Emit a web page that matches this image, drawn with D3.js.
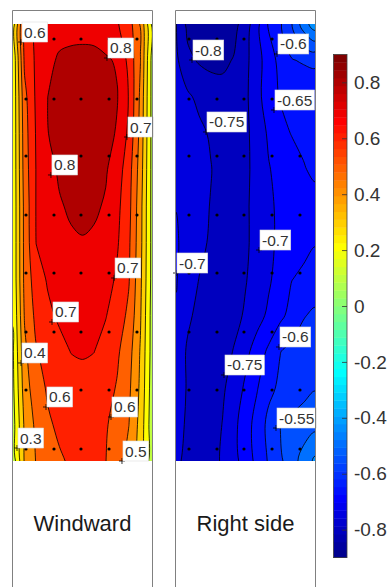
<!DOCTYPE html>
<html>
<head>
<meta charset="utf-8">
<script src="https://cdn.jsdelivr.net/npm/d3@7"></script>
<style>
  body { margin: 0; background: #fff; }
  svg { display: block; }
</style>
</head>
<body>
<svg id="chart" width="391" height="587"></svg>
<script>
// ---------------- DATA ----------------
const panelNames = ["Windward", "Right side"];

const windwardLevels = [0.1, 0.2, 0.3, 0.4, 0.5, 0.6, 0.7, 0.8];
const rightLevels = [-0.85, -0.8, -0.75, -0.7, -0.65, -0.6, -0.55, -0.5, -0.45];

// Cp grid: 13 rows (top -> bottom) x 13 columns (left -> right)
const windwardGrid = [
  [0.25, 0.633, 0.72, 0.75, 0.765, 0.77, 0.772, 0.77, 0.74, 0.708, 0.645, 0.49, 0.18],
  [0.22, 0.62, 0.717, 0.777, 0.812, 0.82, 0.822, 0.82, 0.812, 0.79, 0.673, 0.502, 0.17],
  [0.22, 0.572, 0.717, 0.80, 0.835, 0.855, 0.86, 0.855, 0.84, 0.805, 0.695, 0.48, 0.17],
  [0.22, 0.556, 0.709, 0.798, 0.83, 0.85, 0.855, 0.85, 0.835, 0.79, 0.68, 0.469, 0.17],
  [0.22, 0.547, 0.704, 0.763, 0.815, 0.83, 0.835, 0.83, 0.81, 0.748, 0.644, 0.452, 0.17],
  [0.22, 0.532, 0.705, 0.749, 0.79, 0.815, 0.82, 0.815, 0.79, 0.724, 0.632, 0.436, 0.17],
  [0.22, 0.53, 0.702, 0.724, 0.75, 0.785, 0.795, 0.785, 0.76, 0.71, 0.618, 0.432, 0.17],
  [0.22, 0.527, 0.655, 0.71, 0.74, 0.76, 0.77, 0.762, 0.74, 0.685, 0.608, 0.422, 0.17],
  [0.205, 0.509, 0.626, 0.68, 0.715, 0.735, 0.74, 0.735, 0.705, 0.651, 0.579, 0.41, 0.16],
  [0.19, 0.477, 0.593, 0.635, 0.67, 0.702, 0.708, 0.701, 0.665, 0.615, 0.54, 0.392, 0.16],
  [0.18, 0.451, 0.559, 0.611, 0.64, 0.66, 0.67, 0.66, 0.635, 0.592, 0.52, 0.382, 0.15],
  [0.16, 0.418, 0.523, 0.588, 0.615, 0.635, 0.645, 0.635, 0.61, 0.562, 0.502, 0.365, 0.14],
  [0.14, 0.413, 0.505, 0.547, 0.59, 0.61, 0.625, 0.615, 0.602, 0.54, 0.463, 0.343, 0.14]
];

const rightGrid = [
  [-0.748, -0.813, -0.827, -0.833, -0.830, -0.816, -0.775, -0.7145, -0.644, -0.606, -0.551, -0.476, -0.42],
  [-0.74, -0.788, -0.805, -0.81, -0.81, -0.797, -0.763, -0.720, -0.674, -0.635, -0.603, -0.595, -0.59],
  [-0.72, -0.742, -0.761, -0.779, -0.783, -0.780, -0.759, -0.720, -0.6665, -0.647, -0.643, -0.639, -0.635],
  [-0.715, -0.728, -0.74, -0.755, -0.775, -0.78, -0.761, -0.728, -0.693, -0.6625, -0.648, -0.644, -0.64],
  [-0.705, -0.719, -0.734, -0.748, -0.769, -0.78, -0.761, -0.732, -0.703, -0.685, -0.669, -0.652, -0.645],
  [-0.701, -0.717, -0.735, -0.752, -0.767, -0.775, -0.758, -0.732, -0.707, -0.692, -0.682, -0.671, -0.66],
  [-0.695, -0.716, -0.738, -0.756, -0.771, -0.775, -0.758, -0.733, -0.709, -0.691, -0.676, -0.661, -0.652],
  [-0.697, -0.725, -0.751, -0.765, -0.775, -0.775, -0.753, -0.730, -0.707, -0.679, -0.651, -0.6425, -0.635],
  [-0.705, -0.742, -0.7615, -0.775, -0.775, -0.765, -0.744, -0.718, -0.691, -0.662, -0.633, -0.604, -0.59],
  [-0.72, -0.756, -0.774, -0.775, -0.771, -0.747, -0.713, -0.678, -0.640, -0.601, -0.5865, -0.573, -0.56],
  [-0.725, -0.754, -0.774, -0.775, -0.758, -0.727, -0.692, -0.653, -0.612, -0.591, -0.578, -0.566, -0.553],
  [-0.73, -0.758, -0.775, -0.774, -0.749, -0.713, -0.673, -0.630, -0.587, -0.549, -0.5375, -0.526, -0.515],
  [-0.74, -0.763, -0.775, -0.769, -0.744, -0.715, -0.679, -0.635, -0.595, -0.559, -0.521, -0.481, -0.44]
];

// pressure tap locations (fraction of facade width / height from top)
const tapCols = [0.0935, 0.295, 0.489, 0.691, 0.892];
const tapRows = [0.0343, 0.1716, 0.3021, 0.4371, 0.5698, 0.7048, 0.8375, 0.9725];

// contour labels: [text, fraction x, fraction y]
const windwardLabels = [
  ["0.6", 0.0576, 0.0412], ["0.8", 0.676, 0.0778], ["0.7", 0.820, 0.2586],
  ["0.8", 0.273, 0.3455], ["0.7", 0.727, 0.5812], ["0.7", 0.2806, 0.6819],
  ["0.4", 0.0576, 0.7757], ["0.6", 0.2374, 0.8764], ["0.6", 0.705, 0.8993],
  ["0.3", 0.0288, 0.9703], ["0.5", 0.784, 1.0]
];
const rightLabels = [
  ["-0.8", 0.1151, 0.0824], ["-0.6", 0.7266, 0.0686], ["-0.65", 0.705, 0.1968],
  ["-0.75", 0.2158, 0.2471], ["-0.7", 0.5971, 0.5172], ["-0.7", 0.0, 0.5698],
  ["-0.6", 0.741, 0.7391], ["-0.75", 0.3453, 0.8032], ["-0.55", 0.7194, 0.9245]
];

const colorRange = [-0.9, 0.9];
const colorbarTicks = [0.8, 0.6, 0.4, 0.2, 0, -0.2, -0.4, -0.6, -0.8];

// ---------------- RENDER ----------------
const FONT = "'Liberation Sans', Arial, Helvetica, sans-serif";
const svg = d3.select("#chart");

function jet64() {
  const n = 16, m = 64, u = [];
  for (let i = 1; i <= n; i++) u.push(i / n);
  for (let i = 0; i < n - 1; i++) u.push(1);
  for (let i = n; i >= 1; i--) u.push(i / n);
  const g0 = Math.ceil(n / 2) - (m % 4 === 1 ? 1 : 0);
  const cmap = Array.from({ length: m }, () => [0, 0, 0]);
  u.forEach((val, j) => {
    const g = g0 + j + 1, r = g + n, b = g - n;
    if (g >= 1 && g <= m) cmap[g - 1][1] = val;
    if (r >= 1 && r <= m) cmap[r - 1][0] = val;
    if (b >= 1 && b <= m) cmap[b - 1][2] = val;
  });
  return cmap.map(c => d3.rgb(c[0] * 255, c[1] * 255, c[2] * 255).formatHex());
}
const jet = jet64();
const [cmin, cmax] = colorRange;
const colorOf = v => jet[Math.max(0, Math.min(63, Math.floor((v - cmin) / (cmax - cmin) * 64 + 1e-9)))];

const plotTop = 24, plotBottom = 461, frameTop = 10.5;
const panelGeom = [{ x0: 13, x1: 152 }, { x0: 176, x1: 315 }];
const panelData = [
  { grid: windwardGrid, levels: windwardLevels, labels: windwardLabels },
  { grid: rightGrid, levels: rightLevels, labels: rightLabels }
];

const defs = svg.append("defs");

panelData.forEach((p, pi) => {
  const { x0, x1 } = panelGeom[pi];
  const xs = d3.scaleLinear().domain([0, 1]).range([x0, x1]);
  const ys = d3.scaleLinear().domain([0, 1]).range([plotTop, plotBottom]);
  const ny = p.grid.length, nx = p.grid[0].length;
  const contours = d3.contours().size([nx, ny]).thresholds(p.levels)(p.grid.flat());

  defs.append("clipPath").attr("id", "clip" + pi)
    .append("rect").attr("x", x0).attr("y", plotTop)
    .attr("width", x1 - x0).attr("height", plotBottom - plotTop);

  const g = svg.append("g").attr("clip-path", `url(#clip${pi})`);
  const line = d3.line().curve(d3.curveCatmullRomClosed.alpha(0.5));
  const toPath = c => c.coordinates.map(poly => poly.map(ring =>
    line(ring.slice(0, -1).map(([x, y]) => [xs((x - 0.5) / (nx - 1)), ys((y - 0.5) / (ny - 1))]))
  ).join("")).join("");

  g.append("rect").attr("x", x0).attr("y", plotTop).attr("width", x1 - x0)
    .attr("height", plotBottom - plotTop).attr("fill", colorOf(p.levels[0]));
  g.selectAll("path.band").data(contours).join("path").attr("class", "band")
    .attr("d", toPath).attr("fill", d => colorOf(d.value)).attr("fill-rule", "evenodd");
  g.selectAll("path.iso").data(contours).join("path").attr("class", "iso")
    .attr("d", toPath).attr("fill", "none").attr("stroke", "#000").attr("stroke-width", 0.8);

  // taps
  const taps = tapRows.flatMap(r => tapCols.map(c => [c, r]));
  g.selectAll("circle").data(taps).join("circle")
    .attr("cx", d => xs(d[0])).attr("cy", d => ys(d[1])).attr("r", 1.6).attr("fill", "#000");

  // labels
  const lg = svg.append("g");
  p.labels.forEach(([txt, fx, fy]) => {
    const gg = lg.append("g").attr("transform", `translate(${xs(fx)},${ys(fy)})`);
    gg.append("path").attr("d", "M-3,0H3M0,-3V3").attr("stroke", "#000").attr("stroke-width", 0.8);
    const rect = gg.append("rect");
    const t = gg.append("text").attr("x", 3).attr("y", -4.5).text(txt)
      .style("font-family", FONT).style("font-size", "15.5px").attr("fill", "#333");
    const w = t.node().getComputedTextLength();
    rect.attr("x", 1).attr("y", -20).attr("width", w + 4).attr("height", 20)
      .attr("fill", "#fff").attr("stroke", "#dcdcdc").attr("stroke-width", 0.6);
  });

  // frame
  svg.append("path")
    .attr("d", `M${x0 - 0.5},600V${frameTop}H${x1 + 0.5}V600`)
    .attr("fill", "none").attr("stroke", "#808080").attr("stroke-width", 1);

  svg.append("text").attr("x", (x0 + x1) / 2).attr("y", 531).attr("text-anchor", "middle")
    .style("font-family", FONT).style("font-size", "22px").attr("fill", "#1a1a1a")
    .text(panelNames[pi]);
});

// colorbar
const cbx = 333.5, cbw = 13.5;
const cbScale = d3.scaleLinear().domain(colorRange).range([557.6, 54.4]);
const step = (cmax - cmin) / 64;
svg.append("g").selectAll("rect").data(d3.range(64)).join("rect")
  .attr("x", cbx).attr("width", cbw)
  .attr("y", i => cbScale(cmin + (i + 1) * step))
  .attr("height", i => cbScale(cmin + i * step) - cbScale(cmin + (i + 1) * step) + 0.4)
  .attr("fill", i => jet[i]);
svg.append("rect").attr("x", cbx).attr("y", cbScale(cmax)).attr("width", cbw)
  .attr("height", cbScale(cmin) - cbScale(cmax))
  .attr("fill", "none").attr("stroke", "#404040").attr("stroke-width", 0.8);
const axis = d3.axisRight(cbScale).tickValues(colorbarTicks).tickSize(-5).tickPadding(7)
  .tickFormat(d => String(d));
const ag = svg.append("g").attr("transform", `translate(${cbx + cbw},0)`).call(axis);
ag.select(".domain").remove();
ag.selectAll(".tick line").attr("stroke", "#333").attr("stroke-width", 0.8);
ag.selectAll(".tick text").attr("fill", "#333")
  .style("font-family", FONT).style("font-size", "19px");
</script>
</body>
</html>
